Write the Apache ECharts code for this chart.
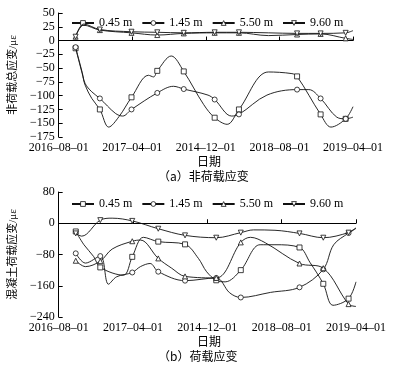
<!DOCTYPE html>
<html><head><meta charset="utf-8">
<script src="https://cdn.jsdelivr.net/npm/echarts@6/dist/echarts.min.js"></script>
<style>html,body{margin:0;padding:0;background:#fff}#c{width:410px;height:365px}</style>
</head><body><div id="c"></div>
<script>
// ---------- data ----------
const tickLabels = ['2016-08-01', '2017-04-01', '2014-12-01', '2018-08-01', '2019-04-01'];
const seriesNames = ['0.45 m', '1.45 m', '5.50 m', '9.60 m'];
const markX = [0.23, 0.56, 0.99, 1.34, 1.70, 2.12, 2.45, 3.24, 3.56, 3.90];

// (a) non-load strain: values at marked dates
const a045 = [-14, -125, -103, -55, -56, -140, -125, -65, -134, -142];
const a145 = [-12, -105, -125, -95, -88, -107, -134, -89, -105, -142];
const a550 = [7, 19, 14, 10, 13, 14, 14, 11, 12, 4];
const a960 = [7, 20, 16, 15, 14, 15, 15, 13, 13, 14];
// (a) intermediate readings (unmarked)
const a045Curve = [[0.32, -60], [0.36, -81], [0.45, -105], [0.68, -157], [0.82, -138], [1.22, -63], [1.29, -66], [1.53, -28], [1.97, -116], [2.29, -152], [2.85, -57], [3.17, -60], [3.70, -157], [4.0, -120]];
const a145Curve = [[0.32, -58], [0.36, -78], [0.45, -93], [0.77, -132], [0.87, -137], [1.56, -83], [2.03, -99], [2.35, -137], [2.83, -99], [3.40, -89], [3.78, -139], [4.0, -139]];
const a550Curve = [[0.34, 28], [2.85, 9], [4.0, 2]];
const a960Curve = [[0.34, 30], [2.85, 14], [4.0, 18]];

// (b) load strain: values at marked dates
const b045 = [-21, -113, -86, -47, -54, -146, -120, -62, -155, -193];
const b145 = [-77, -84, -126, -124, -147, -140, -190, -164, -118, -25];
const b550 = [-96, -97, -46, -90, -136, -140, -49, -103, -115, -207];
const b960 = [-26, 8, 6, -14, -31, -37, -24, -26, -37, -24];
// (b) intermediate readings (unmarked)
const b045Curve = [[0.34, -55], [0.47, -85], [0.87, -133], [1.14, -36], [1.88, -90], [1.99, -124], [2.24, -150], [2.71, -55], [2.91, -55], [3.38, -100], [3.69, -210], [4.0, -150]];
const b145Curve = [[0.36, -102], [0.67, -156], [0.78, -137], [1.10, -111], [1.23, -103], [2.30, -178], [2.85, -177], [3.70, -55], [4.0, -12]];
const b550Curve = [[0.36, -111], [0.72, -66], [1.10, -43], [1.52, -115], [2.58, -36], [2.78, -50], [4.0, -213]];
const b960Curve = [[0.31, -33], [0.72, 13], [2.62, -17], [2.91, -18], [4.0, -13]];

const yTicksA = { min: -175, max: 50, interval: 25 };
const yTicksB = { min: -240, max: 80, interval: 80 };

// ---------- chart ----------
const FONT = '"Liberation Serif", "Noto Sans CJK SC", serif';
const symbols = ['rect', 'circle', 'triangle', 'triangle'];
const rotations = [0, 0, 0, 180];

function build(marked, extra) {
  const pts = marked.map((v, i) => ({ value: [markX[i], v] }));
  extra.forEach(p => pts.push({ value: [p[0], p[1]], symbol: 'none' }));
  pts.sort((p, q) => p.value[0] - q.value[0]);
  return pts;
}

const chart = echarts.init(document.getElementById('c'), null, { renderer: 'canvas' });

function xAxisCfg(idx) {
  return {
    type: 'value', gridIndex: idx, min: 0, max: 4, interval: 1,
    axisLine: { lineStyle: { color: '#000', width: 1 } },
    axisTick: { inside: true, length: 4, lineStyle: { color: '#000' } },
    splitLine: { show: false },
    axisLabel: { color: '#000', fontFamily: FONT, fontSize: 12, margin: 5,
      formatter: v => (tickLabels[Math.round(v)] || '').replace(/-/g, '\u2013') }
  };
}
function yAxisCfg(idx, t, name) {
  return {
    type: 'value', gridIndex: idx, min: t.min, max: t.max, interval: t.interval,
    name: name, nameLocation: 'middle', nameGap: 35, nameRotate: 90,
    nameTextStyle: { color: '#000', fontFamily: FONT, fontSize: 11 },
    axisLine: { show: true, lineStyle: { color: '#000', width: 1 } },
    axisTick: { show: true, inside: true, length: 4, lineStyle: { color: '#000' } },
    splitLine: { show: false },
    axisLabel: { color: '#000', fontFamily: FONT, fontSize: 12, margin: 4,
      formatter: v => String(v).replace('-', '\u2212') }
  };
}

const panelData = [
  [[a045, a045Curve], [a145, a145Curve], [a550, a550Curve], [a960, a960Curve]],
  [[b045, b045Curve], [b145, b145Curve], [b550, b550Curve], [b960, b960Curve]]
];

const series = [];
panelData.forEach((panel, pi) => {
  panel.forEach((d, si) => {
    const s = {
      type: 'line', name: seriesNames[si], xAxisIndex: pi, yAxisIndex: pi,
      data: build(d[0], d[1]), smooth: 0.35,
      symbol: symbols[si], symbolRotate: rotations[si], symbolSize: 5, showSymbol: true,
      lineStyle: { color: '#111', width: 0.9 },
      itemStyle: { color: '#fff', borderColor: '#111', borderWidth: 0.8 },
      emphasis: { disabled: true }, z: 3 + si
    };
    if (si === 0) {
      s.markLine = {
        silent: true, symbol: 'none', label: { show: false },
        lineStyle: { color: '#000', width: 0.8, type: [7, 2, 2, 2] },
        data: [{ yAxis: 0 }]
      };
    }
    series.push(s);
  });
});

function legendCfg(top) {
  return {
    data: seriesNames, left: 66, top: top, itemWidth: 22, itemHeight: 6, itemGap: 9,
    textStyle: { color: '#000', fontFamily: FONT, fontSize: 12 },
    itemStyle: { color: '#fff', borderColor: '#111', borderWidth: 0.8 },
    selectedMode: false
  };
}

chart.setOption({
  animation: false,
  backgroundColor: '#fff',
  grid: [
    { left: 58, top: 13, width: 295, height: 124 },
    { left: 58, top: 192, width: 298, height: 125 }
  ],
  xAxis: [xAxisCfg(0), xAxisCfg(1)],
  yAxis: [yAxisCfg(0, yTicksA, '非荷载总应变/με'), yAxisCfg(1, yTicksB, '混凝土荷载应变/με')],
  legend: [legendCfg(12), legendCfg(193)],
  series: series,
  graphic: [
    { type: 'text', left: 197, top: 155, style: { text: '日期', font: '12px "Noto Sans CJK SC"', fill: '#000' } },
    { type: 'text', left: 158, top: 170, style: { text: '（a）非荷载应变', font: '12px "Noto Sans CJK SC"', fill: '#000' } },
    { type: 'text', left: 197, top: 335, style: { text: '日期', font: '12px "Noto Sans CJK SC"', fill: '#000' } },
    { type: 'text', left: 158, top: 350, style: { text: '（b）荷载应变', font: '12px "Noto Sans CJK SC"', fill: '#000' } }
  ]
});
</script></body></html>
